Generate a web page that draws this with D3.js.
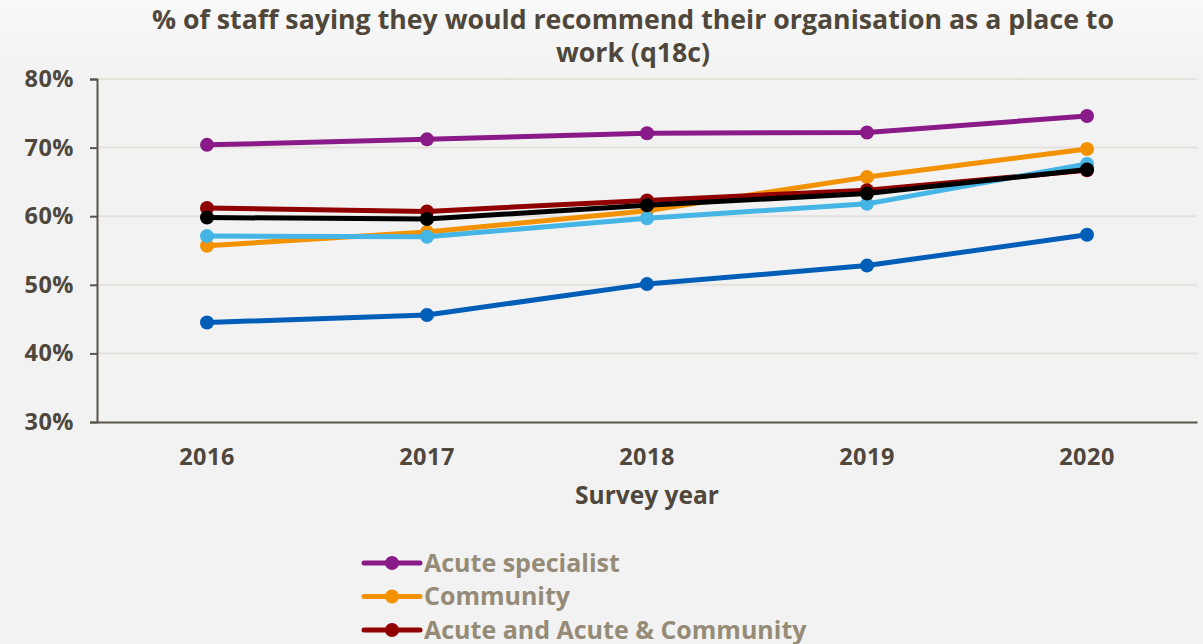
<!DOCTYPE html>
<html>
<head>
<meta charset="utf-8">
<script src="https://cdn.jsdelivr.net/npm/d3@7"></script>
<style>
  html, body { margin: 0; padding: 0; overflow: hidden; background: #f2f2f2; }
  svg { display: block; }
</style>
</head>
<body>
<div id="chart"></div>
<script>
// Survey years on the x axis
const years = ["2016", "2017", "2018", "2019", "2020"];

// Series names, in drawing / legend order
const seriesNames = [
  "Acute specialist",
  "Community",
  "Acute and Acute & Community",
  "Ambulance",
  "Mental Health & Learning Disability",
  "Overall"
];

// % recommending their organisation as a place to work, one array per series
const acuteSpecialist = [70.4, 71.2, 72.1, 72.2, 74.6];
const community       = [55.7, 57.7, 60.8, 65.7, 69.8];
const acuteAndCommunity = [61.2, 60.7, 62.3, 63.8, 66.7];
const ambulance       = [44.5, 45.6, 50.1, 52.8, 57.3];
const mentalHealth    = [57.1, 57.0, 59.7, 61.8, 67.6];
const overall         = [59.8, 59.6, 61.6, 63.3, 66.8];

const seriesValues = [acuteSpecialist, community, acuteAndCommunity, ambulance, mentalHealth, overall];
const seriesColors = ["#8a1a88", "#f39200", "#910000", "#005eb8", "#45b5e5", "#000000"];

// Y axis ticks
const yTicks = [30, 40, 50, 60, 70, 80];

const W = 1203, H = 644;
const margin = { left: 97, right: 6, top: 79, bottom: 222 };

const svg = d3.select("#chart").append("svg")
  .attr("width", W).attr("height", H)
  .style("font-family", "'Open Sans', 'Noto Sans', sans-serif");

// Soft background with a slightly lighter top
const defs = svg.append("defs");
const grad = defs.append("linearGradient").attr("id", "bg").attr("x1", 0).attr("y1", 0).attr("x2", 0).attr("y2", 1);
grad.append("stop").attr("offset", "0").attr("stop-color", "#f9f9f9");
grad.append("stop").attr("offset", "0.12").attr("stop-color", "#f2f2f2");
grad.append("stop").attr("offset", "1").attr("stop-color", "#f2f2f2");
svg.append("rect").attr("width", W).attr("height", H).attr("fill", "url(#bg)");

const x = d3.scaleBand().domain(years).range([margin.left, W - margin.right]);
const y = d3.scaleLinear().domain([30, 80]).range([H - margin.bottom, margin.top]);

const textColor = "#4f473b";

// Horizontal gridlines
svg.append("g").selectAll("line")
  .data(yTicks.filter(t => t !== 30))
  .join("line")
  .attr("x1", margin.left).attr("x2", W - margin.right)
  .attr("y1", d => y(d)).attr("y2", d => y(d))
  .attr("stroke", "#e4e1da").attr("stroke-width", 2);

// Y axis
const yAxis = svg.append("g")
  .attr("transform", `translate(${margin.left},0)`)
  .call(d3.axisLeft(y).tickValues(yTicks).tickFormat(d => d + "%").tickSize(7).tickPadding(16));
yAxis.select(".domain").attr("stroke", "#5a554c").attr("stroke-width", 2);
yAxis.selectAll(".tick line").attr("stroke", "#5a554c").attr("stroke-width", 2);
yAxis.selectAll(".tick text")
  .attr("fill", textColor).attr("font-size", 23.5).attr("font-weight", 700)
  .attr("letter-spacing", 0.5)
  .style("font-family", "'Open Sans', sans-serif");

// X axis
const xAxis = svg.append("g")
  .attr("transform", `translate(0,${y(30)})`)
  .call(d3.axisBottom(x).tickSize(0).tickPadding(26));
xAxis.select(".domain").attr("stroke", "#5a554c").attr("stroke-width", 2);
xAxis.selectAll(".tick text")
  .attr("fill", textColor).attr("font-size", 23.5).attr("font-weight", 700)
  .attr("letter-spacing", 0.5)
  .style("font-family", "'Open Sans', sans-serif");

// Axis title
svg.append("text")
  .attr("x", (margin.left + W - margin.right) / 2).attr("y", 504)
  .attr("text-anchor", "middle")
  .attr("fill", textColor).attr("font-size", 24.5).attr("font-weight", 700)
  .text("Survey year");

// Chart title
const title = svg.append("text")
  .attr("text-anchor", "middle")
  .attr("fill", textColor).attr("font-size", 26.7).attr("font-weight", 700);
title.append("tspan").attr("x", 633).attr("y", 29)
  .text("% of staff saying they would recommend their organisation as a place to");
title.append("tspan").attr("x", 633).attr("y", 62).text("work (q18c)");

// Lines and markers
const line = d3.line()
  .x((d, i) => x(years[i]) + x.bandwidth() / 2)
  .y(d => y(d));

seriesValues.forEach((vals, s) => {
  const g = svg.append("g");
  g.append("path")
    .datum(vals)
    .attr("d", line)
    .attr("fill", "none")
    .attr("stroke", seriesColors[s])
    .attr("stroke-width", 5)
    .attr("stroke-linejoin", "round");
  g.selectAll("circle")
    .data(vals)
    .join("circle")
    .attr("cx", (d, i) => x(years[i]) + x.bandwidth() / 2)
    .attr("cy", d => y(d))
    .attr("r", 7)
    .attr("fill", seriesColors[s]);
});

// Legend
const legend = svg.append("g").attr("transform", "translate(364,563)");
const item = legend.selectAll("g")
  .data(seriesNames)
  .join("g")
  .attr("transform", (d, i) => `translate(0,${i * 33.5})`);
item.append("line")
  .attr("x1", 0).attr("x2", 56).attr("y1", 0).attr("y2", 0)
  .attr("stroke", (d, i) => seriesColors[i]).attr("stroke-width", 5)
  .attr("stroke-linecap", "round");
item.append("circle")
  .attr("cx", 28).attr("cy", 0).attr("r", 7)
  .attr("fill", (d, i) => seriesColors[i]);
item.append("text")
  .attr("x", 60).attr("y", 0).attr("dy", "0.35em")
  .attr("fill", "#958b76").attr("font-size", 25).attr("font-weight", 700)
  .text(d => d);
</script>
</body>
</html>
